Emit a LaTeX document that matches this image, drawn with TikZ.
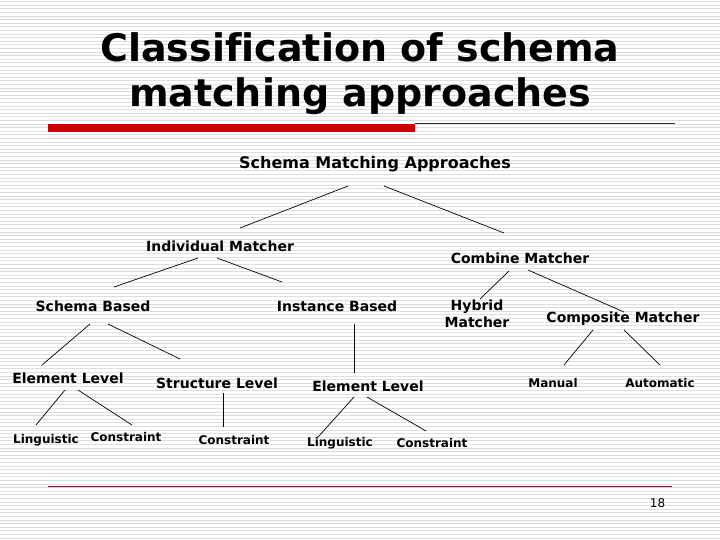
\documentclass[tikz,border=0pt]{standalone}
\usepackage{fontspec}
\setmainfont{DejaVu Sans}[Ligatures=NoCommon]
\usetikzlibrary{calc}
\definecolor{stripe}{RGB}{222,222,222}
\definecolor{barred}{RGB}{204,0,0}
\definecolor{rulecol}{RGB}{110,30,40}
\definecolor{rulepink}{RGB}{240,200,205}
\tikzset{
 bigl/.style={font=\bfseries\fontsize{16}{18}\selectfont, inner sep=0pt, text height=11.7pt, text depth=0pt},
 midl/.style={font=\bfseries\fontsize{14}{16}\selectfont, inner sep=0pt, text height=10.2pt, text depth=0pt},
 smalll/.style={font=\bfseries\fontsize{12}{14}\selectfont, inner sep=0pt, text height=8.7pt, text depth=0pt},
 twol/.style={font=\bfseries\fontsize{14}{17}\selectfont, inner sep=0pt, align=center},
 edge/.style={line width=0.7pt, black},
 ttl/.style={font=\bfseries\fontsize{38}{44}\selectfont, inner sep=0pt, anchor=base},
}
\begin{document}
\begin{tikzpicture}[x=1pt,y=-1pt]
\useasboundingbox (0,0) rectangle (720,540);
\fill[white] (0,0) rectangle (720,540);
\foreach \i in {0,...,149} \draw[stripe, line width=0.75pt] (0,1.5+3.6*\i) -- (720,1.5+3.6*\i);

% title
\node[ttl] (t1) at (360,62) {Classification of schema};
\node[ttl] (t2) at (360,107) {matching approaches};
\fill[barred] (48,124) rectangle (415,132);
\draw[rulecol, line width=0.8pt] (415,123.3) -- (675,123.3);

% nodes
\node[bigl] (sma) at (375,163) {Schema Matching Approaches};
\node[midl] (im) at (220,246) {Individual Matcher};
\node[midl] (cm) at (520,258) {Combine Matcher};
\node[midl] (sb) at (93,306) {Schema Based};
\node[midl] (ib) at (337,306) {Instance Based};
\node[twol] (hy) at (477,314) {Hybrid\\Matcher};
\node[midl] (comp) at (623,317) {Composite Matcher};
\node[midl] (el1) at (68,378) {Element Level};
\node[midl] (sl) at (217,383) {Structure Level};
\node[midl] (el2) at (368,386) {Element Level};
\node[smalll] (man) at (553,383) {Manual};
\node[smalll] (aut) at (660,383) {Automatic};
\node[smalll] (li1) at (46,439) {Linguistic};
\node[smalll] (co1) at (126,437) {Constraint};
\node[smalll] (co2) at (234,440) {Constraint};
\node[smalll] (li2) at (340,442) {Linguistic};
\node[smalll] (co3) at (432,443) {Constraint};

% connectors
\draw[edge] ($(sma)+(-27,23)$) -- ($(im)+(20,-18)$);
\draw[edge] ($(sma)+(9,23)$) -- ($(cm)+(-16,-25)$);
\draw[edge] ($(im)+(-22,12)$) -- ($(sb)+(21,-19)$);
\draw[edge] ($(im)+(-3,12)$) -- ($(ib)+(-55,-24)$);
\draw[edge] ($(cm)+(-11,13)$) -- ($(hy)+(3,-15)$);
\draw[edge] ($(cm)+(8,12)$) -- ($(comp)+(1,-5)$);
\draw[edge] ($(comp)+(-30,13)$) -- ($(man)+(11,-18)$);
\draw[edge] ($(comp)+(1,13)$) -- ($(aut)+(0,-18)$);
\draw[edge] ($(sb)+(-3,18)$) -- ($(el1)+(-26,-13)$);
\draw[edge] ($(sb)+(15,18)$) -- ($(sl)+(-37,-24)$);
\draw[edge] ($(ib)+(17,18)$) -- ($(el2)+(-14,-13)$);
\draw[edge] ($(el1)+(-3,12)$) -- ($(li1)+(-10,-14)$);
\draw[edge] ($(el1)+(10,12)$) -- ($(co1)+(6,-12)$);
\draw[edge] ($(sl)+(6,10)$) -- ($(co2)+(-11,-13)$);
\draw[edge] ($(el2)+(-14,11)$) -- ($(li2)+(-22,-5)$);
\draw[edge] ($(el2)+(-1,11)$) -- ($(co3)+(-6,-12)$);

% footer
\draw[rulepink, line width=1pt] (48,487.3) -- (672,487.3);
\draw[rulecol, line width=0.8pt] (48,486) -- (672,486);
\node[font=\fontsize{12}{14}\selectfont, inner sep=0pt, anchor=base] (pg) at (657.5,507) {18};
\end{tikzpicture}
\end{document}
